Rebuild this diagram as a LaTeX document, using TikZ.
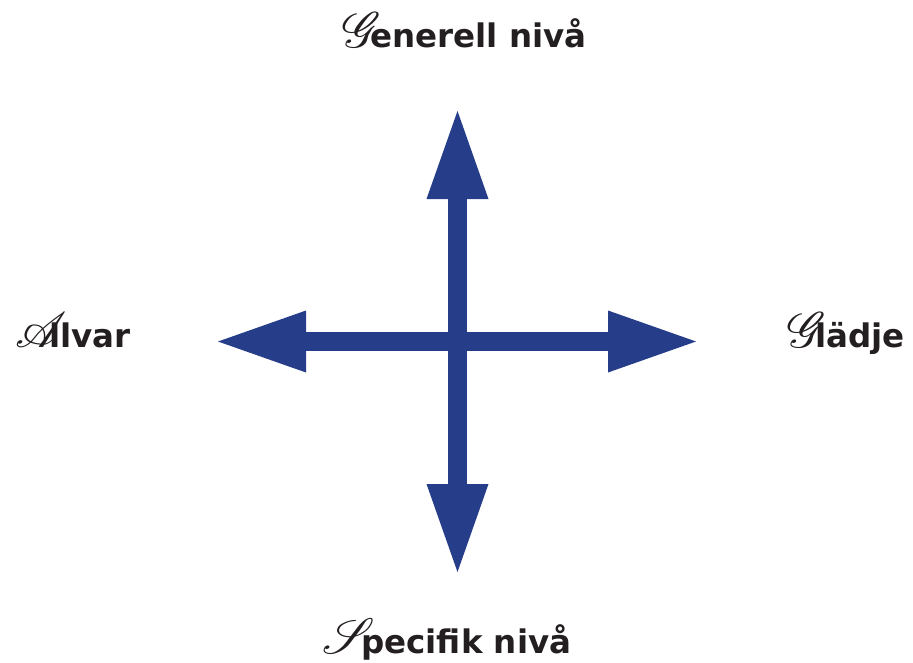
\documentclass[tikz,border=0pt]{standalone}
\usepackage{fontspec}
\setmainfont{DejaVu Sans}
\usepackage{graphicx}
\usepackage{mathrsfs}
\usetikzlibrary{arrows.meta}
\definecolor{arrowblue}{RGB}{38,62,137}
\definecolor{ink}{RGB}{35,31,32}
\newcommand{\scriptcap}[1]{\scalebox{2.0}{\fontsize{24.88}{26}\usefont{U}{rsfs}{m}{n}#1}}
\begin{document}
\begin{tikzpicture}[x=1pt,y=-1pt,
  lbl/.style={inner sep=0pt, font=\fontsize{32.5}{38}\selectfont\bfseries, text=ink},
  capl/.style={inner sep=0pt, text=ink},
  bigarrow/.style={draw=arrowblue, line width=19.4pt, {Triangle[length=88pt,width=62pt,line width=0pt]}-{Triangle[length=88pt,width=62pt,line width=0pt]}}]
\useasboundingbox (0,0) rectangle (913,662);
\coordinate (top) at (457.5,111);
\coordinate (bottom) at (457.5,572);
\coordinate (left) at (218,341.5);
\coordinate (right) at (696,341.5);
\draw[bigarrow] (left) -- (right);
\draw[bigarrow] (bottom) -- (top);
\node[lbl, anchor=base west] (genT) at (370,47) {enerell nivå};
\node[capl, anchor=base east] (genC) at ([xshift=3pt]genT.base west) {\scriptcap{G}};
\node[lbl, anchor=base west] (allT) at (49,347) {llvar};
\node[capl, anchor=base east] (allC) at ([xshift=7pt]allT.base west) {\scriptcap{A}};
\node[lbl, anchor=base west] (gladT) at (815,347) {lädje};
\node[capl, anchor=base east] (gladC) at ([xshift=3pt]gladT.base west) {\scriptcap{G}};
\node[lbl, anchor=base west] (specT) at (361,653) {pecifik nivå};
\node[capl, anchor=base east] (specC) at ([xshift=5pt]specT.base west) {\scriptcap{S}};
\end{tikzpicture}
\end{document}
